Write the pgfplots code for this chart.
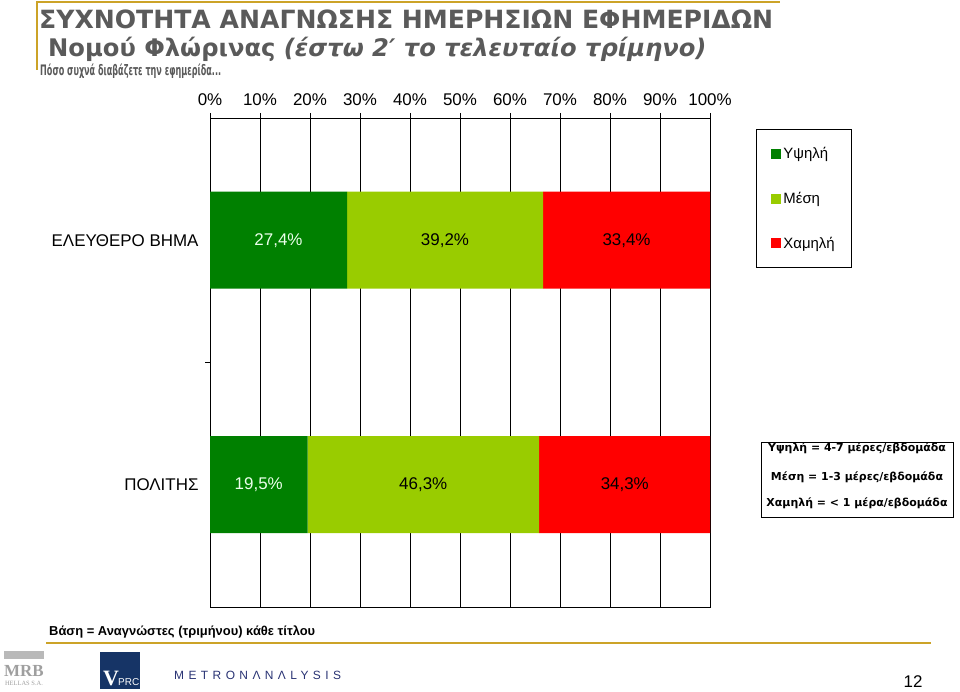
\documentclass[border=0pt]{standalone}
\usepackage{pgfplots}
\pgfplotsset{compat=1.18}
\usepackage{pgfplotstable}
\usepackage{graphicx}
\usepackage{fontspec}
\setmainfont{Liberation Sans}
\newfontfamily\dvsans{DejaVu Sans}
\newfontfamily\metronfont[LetterSpace=37]{Liberation Sans}
\newfontfamily\seriffont{Liberation Serif}

\definecolor{dgreen}{RGB}{0,128,0}
\definecolor{lgreen}{RGB}{153,204,0}
\definecolor{bred}{RGB}{255,0,0}
\definecolor{ttl}{RGB}{90,90,90}
\definecolor{gold}{RGB}{204,163,40}
\definecolor{navy}{RGB}{22,52,102}
\definecolor{metron}{RGB}{40,50,115}
\definecolor{paleg}{RGB}{235,255,235}

% y = 1 : ELEYTHERO BHMA (top), y = 0 : POLITHS (bottom)
\pgfplotstableread{
y high mid low
0 19.5 46.3 34.3
1 27.4 39.2 33.4
}\bars

% label positions (segment centres) and values
\pgfplotstableread{
x y v
13.7 1 27.4
9.75 0 19.5
}\labwhite
\pgfplotstableread{
x y v
47.0 1 39.2
83.3 1 33.4
42.65 0 46.3
82.95 0 34.3
}\labblack

\pgfplotsset{
  sqlegend/.style={legend image code/.code={\fill[##1] (0bp,-5bp) rectangle (10bp,5bp);}},
  geom/.style={at={(210bp,85bp)}, anchor=south west, scale only axis,
    width=500bp, height=489bp, xmin=0, xmax=100, ymin=-0.5, ymax=1.5},
}

\begin{document}
\begin{tikzpicture}[x=1bp,y=1bp]
\useasboundingbox (0,0) rectangle (960,692);

\begin{axis}[geom,
  xbar stacked, bar width=97bp,
  /pgf/number format/assume math mode=true,
  xtick={0,10,...,100},
  xticklabel={\pgfmathprintnumber{\tick}\%},
  xtick pos=upper, xticklabel pos=upper,
  tick align=outside, major tick length=5bp,
  tick style={black, line width=0.8bp},
  xmajorgrids, grid style={black, line width=0.8bp},
  axis line style={black, line width=0.8bp},
  ytick={0.5}, yticklabels={\relax}, ytick pos=left,
  extra y ticks={0,1},
  extra y tick labels={ΠΟΛΙΤΗΣ,ΕΛΕΥΘΕΡΟ ΒΗΜΑ},
  extra y tick style={major tick length=0pt},
  tick label style={font=\fontsize{17}{20}\selectfont, black},
  x tick label style={yshift=4bp},
  y tick label style={xshift=-8bp},
  legend style={at={(1.092,0.9775)}, anchor=north west, draw=black,
    line width=0.8bp, font=\fontsize{15}{18}\selectfont,
    row sep=28bp, inner xsep=15bp, inner ysep=16bp},
  legend cell align=left,
]
\addplot[fill=dgreen, draw=none, sqlegend] table[x=high, y=y]{\bars};
\addlegendentry{Υψηλή}
\addplot[fill=lgreen, draw=none, sqlegend] table[x=mid, y=y]{\bars};
\addlegendentry{Μέση}
\addplot[fill=bred, draw=none, sqlegend] table[x=low, y=y]{\bars};
\addlegendentry{Χαμηλή}
\end{axis}

\begin{axis}[geom, hide axis, clip=false,
  nodes near coords={\pgfmathprintnumber[fixed,fixed zerofill,precision=1,use comma,assume math mode=true]{\pgfplotspointmeta}\%},
  nodes near coords align={center},
]
\addplot[draw=none, mark=none, point meta=explicit,
  every node near coord/.append style={anchor=center, text=paleg, font=\fontsize{17}{20}\selectfont}]
  table[x=x, y=y, meta=v]{\labwhite};
\addplot[draw=none, mark=none, point meta=explicit,
  every node near coord/.append style={anchor=center, text=black, font=\fontsize{17}{20}\selectfont}]
  table[x=x, y=y, meta=v]{\labblack};
\end{axis}

% gold decorations
\draw[gold, line width=2.2bp] (37,690) -- (780,690);
\draw[gold, line width=2.2bp] (37,691) -- (37,622);
\draw[gold, line width=2.5bp] (46,49) -- (931,49);

% titles
\node[anchor=base west, inner sep=0, text=ttl, font=\dvsans\bfseries\fontsize{25.2}{30}\selectfont]
  at (39,663) {ΣΥΧΝΟΤΗΤΑ ΑΝΑΓΝΩΣΗΣ ΗΜΕΡΗΣΙΩΝ ΕΦΗΜΕΡΙΔΩΝ};
\node[anchor=base west, inner sep=0, text=ttl, font=\dvsans\bfseries\fontsize{24.3}{29}\selectfont]
  at (48,635) {Νομού Φλώρινας \itshape (έστω 2′ το τελευταίο τρίμηνο)};
\node[anchor=base west, inner sep=0, text=ttl]
  at (40,616) {\resizebox{181bp}{\height}{\dvsans\bfseries\fontsize{14.5}{17}\selectfont Πόσο συχνά διαβάζετε την εφημερίδα...}};

% definitions box
\draw[black, line width=0.8bp] (761,250) rectangle (953,175);
\node[inner sep=0, font=\dvsans\bfseries\fontsize{11}{13}\selectfont] at (857,244) {Υψηλή = 4-7 μέρες/εβδομάδα};
\node[inner sep=0, font=\dvsans\bfseries\fontsize{11}{13}\selectfont] at (857,215) {Μέση = 1-3 μέρες/εβδομάδα};
\node[inner sep=0, font=\dvsans\bfseries\fontsize{11}{13}\selectfont] at (857,189) {Χαμηλή = < 1 μέρα/εβδομάδα};

% footer
\node[anchor=base west, inner sep=0]
  at (49,56) {\resizebox{266bp}{\height}{\bfseries\fontsize{13}{15}\selectfont Βάση = Αναγνώστες (τριμήνου) κάθε τίτλου}};

% MRB logo
\fill[gray!55] (4,41) rectangle (44,33);
\node[anchor=base, inner sep=0, text=gray!75, font=\seriffont\bfseries\fontsize{17}{17}\selectfont] at (24,15) {MRB};
\node[anchor=base, inner sep=0, text=gray!75, font=\seriffont\fontsize{6.5}{7}\selectfont] at (24,6) {HELLAS S.A.};

% VPRC logo
\fill[navy] (100,40) rectangle (140,3);
\node[anchor=base west, inner sep=0, text=white, font=\seriffont\bfseries\fontsize{22}{22}\selectfont] at (103,6) {V};
\node[anchor=base west, inner sep=0, text=white, font=\fontsize{10}{10}\selectfont] at (118,6) {PRC};

% METRON ANALYSIS
\node[anchor=base west, inner sep=0, text=metron, font=\metronfont\fontsize{12}{12}\selectfont] at (174,12) {METRONΛNΛLYSIS};

% page number
\node[anchor=base, inner sep=0, font=\fontsize{17}{17}\selectfont] at (913,4) {12};
\end{tikzpicture}
\end{document}
